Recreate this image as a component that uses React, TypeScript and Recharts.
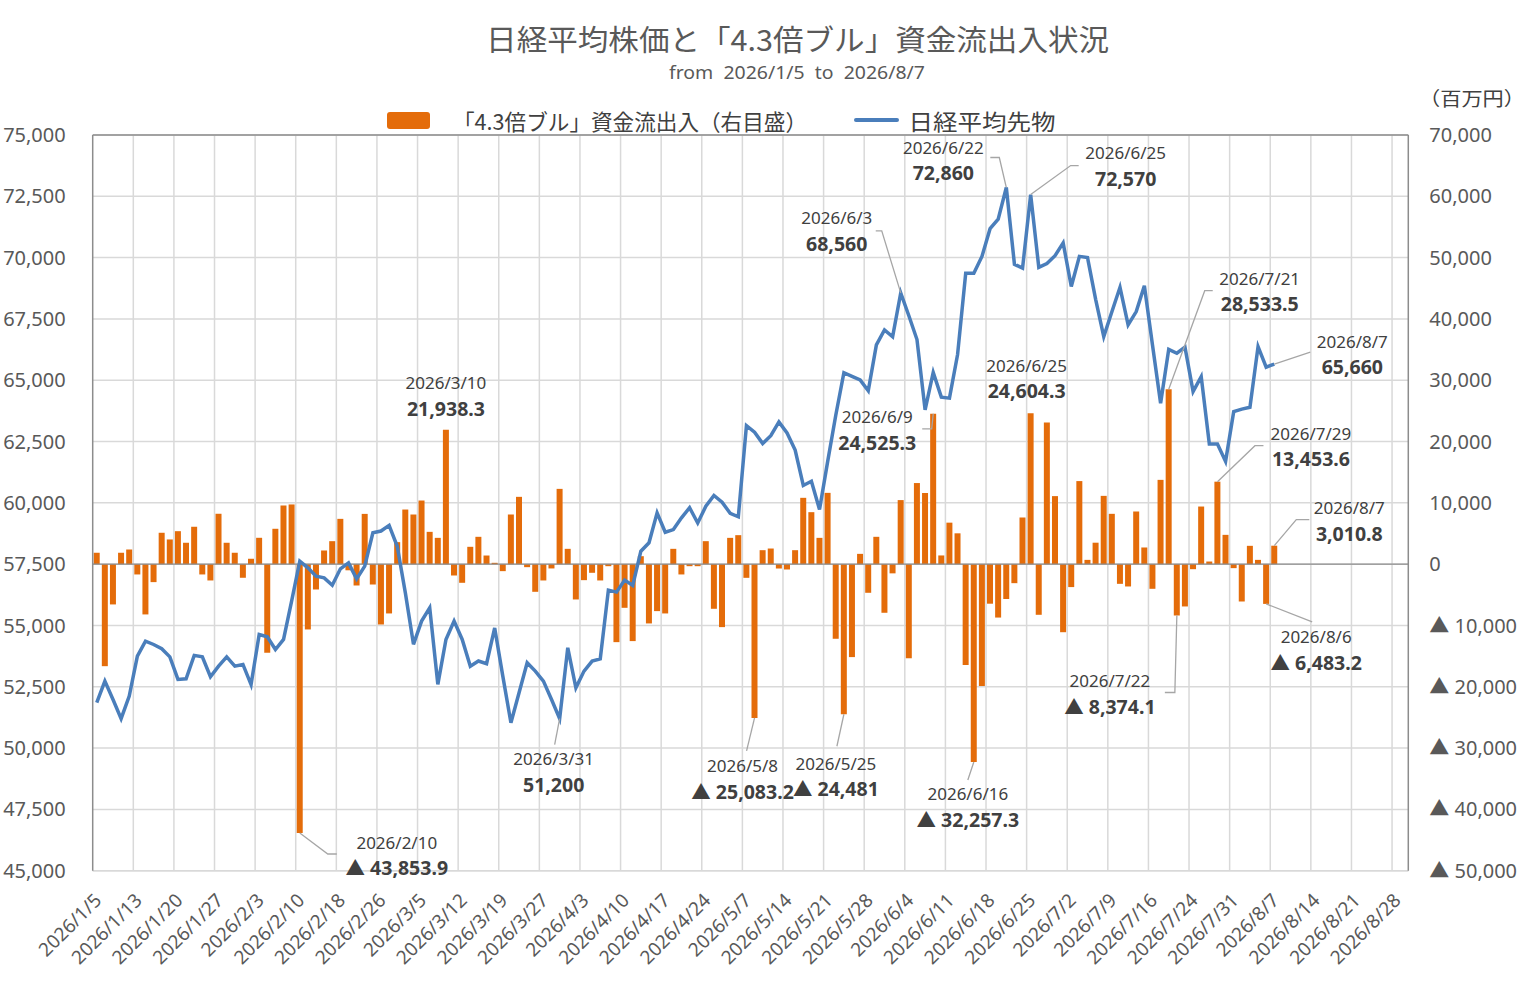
import React from 'react';
import {
  ComposedChart,
  Bar,
  Line,
  XAxis,
  YAxis,
  CartesianGrid,
  ReferenceLine,
  ReferenceDot,
} from 'recharts';

// trading days shown on the category axis (the chart runs on to the end of August)
const CATEGORIES = [
  '2026/1/5', '2026/1/6', '2026/1/7', '2026/1/8', '2026/1/9',
  '2026/1/13', '2026/1/14', '2026/1/15', '2026/1/16',
  '2026/1/19', '2026/1/20', '2026/1/21', '2026/1/22', '2026/1/23',
  '2026/1/26', '2026/1/27', '2026/1/28', '2026/1/29', '2026/1/30',
  '2026/2/2', '2026/2/3', '2026/2/4', '2026/2/5', '2026/2/6',
  '2026/2/9', '2026/2/10', '2026/2/12', '2026/2/13',
  '2026/2/16', '2026/2/17', '2026/2/18', '2026/2/19', '2026/2/20',
  '2026/2/24', '2026/2/25', '2026/2/26', '2026/2/27',
  '2026/3/2', '2026/3/3', '2026/3/4', '2026/3/5', '2026/3/6',
  '2026/3/9', '2026/3/10', '2026/3/11', '2026/3/12', '2026/3/13',
  '2026/3/16', '2026/3/17', '2026/3/18', '2026/3/19',
  '2026/3/23', '2026/3/24', '2026/3/25', '2026/3/26', '2026/3/27',
  '2026/3/30', '2026/3/31', '2026/4/1', '2026/4/2', '2026/4/3',
  '2026/4/6', '2026/4/7', '2026/4/8', '2026/4/9', '2026/4/10',
  '2026/4/13', '2026/4/14', '2026/4/15', '2026/4/16', '2026/4/17',
  '2026/4/20', '2026/4/21', '2026/4/22', '2026/4/23', '2026/4/24',
  '2026/4/27', '2026/4/28', '2026/4/30', '2026/5/1',
  '2026/5/7', '2026/5/8',
  '2026/5/11', '2026/5/12', '2026/5/13', '2026/5/14', '2026/5/15',
  '2026/5/18', '2026/5/19', '2026/5/20', '2026/5/21', '2026/5/22',
  '2026/5/25', '2026/5/26', '2026/5/27', '2026/5/28', '2026/5/29',
  '2026/6/1', '2026/6/2', '2026/6/3', '2026/6/4', '2026/6/5',
  '2026/6/8', '2026/6/9', '2026/6/10', '2026/6/11', '2026/6/12',
  '2026/6/15', '2026/6/16', '2026/6/17', '2026/6/18', '2026/6/19',
  '2026/6/22', '2026/6/23', '2026/6/24', '2026/6/25', '2026/6/26',
  '2026/6/29', '2026/6/30', '2026/7/1', '2026/7/2', '2026/7/3',
  '2026/7/6', '2026/7/7', '2026/7/8', '2026/7/9', '2026/7/10',
  '2026/7/13', '2026/7/14', '2026/7/15', '2026/7/16', '2026/7/17',
  '2026/7/21', '2026/7/22', '2026/7/23', '2026/7/24',
  '2026/7/27', '2026/7/28', '2026/7/29', '2026/7/30', '2026/7/31',
  '2026/8/3', '2026/8/4', '2026/8/5', '2026/8/6', '2026/8/7',
  '2026/8/10', '2026/8/11', '2026/8/12', '2026/8/13', '2026/8/14',
  '2026/8/17', '2026/8/18', '2026/8/19', '2026/8/20', '2026/8/21',
  '2026/8/24', '2026/8/25', '2026/8/26', '2026/8/27', '2026/8/28',
  '2026/8/31',
];

// 「4.3倍ブル」資金流出入 (百万円), 2026/1/5 .. 2026/8/7
const FLOW = [
  1860, -16640, -6570, 1860, 2400,
  -1680, -8200, -2930, 5120,
  4030, 5380, 3490, 6100, -1680,
  -2660, 8220, 3490, 1860, -2220,
  880, 4300, -14450, 5770, 9570,
  9740, -43853.9, -10650, -4130,
  2230, 3750, 7390, -1000, -3480,
  8200, -3320, -9840, -8040,
  3590, 8910, 8100, 10380, 5270,
  4290, 21938.3, -1850, -3040, 2830,
  4460, 1410, 220, -1140,
  8100, 10980, -490, -4510, -2660,
  -700, 12280, 2500, -5760, -2610,
  -1410, -2660, -330, -12720, -7120,
  -12550, 1300, -9670, -7660, -8040,
  2500, -1680, -330, -330, 3750,
  -7280, -10270, 4290, 4730,
  -2230, -25083.2,
  2280, 2550, -710, -870, 2280,
  10820, 8480, 4290, 11630, -12170,
  -24481, -15160, 1680, -4670, 4460,
  -7930, -1500, 10450, -15350, 13230,
  11610, 24525.3, 1420, 6770, 5030,
  -16450, -32257.3, -19870, -6450, -8710,
  -5680, -3100, 7610, 24604.3, -8260,
  23100, 11100, -11100, -3740, 13550,
  700, 3500, 11140, 8210, -3210,
  -3640, 8590, 2720, -4020, 13750,
  28533.5, -8374.1, -6900, -820,
  9400, 430, 13453.6, 4780, -650,
  -6090, 2990, 700, -6483.2, 3010.8,
];

// 日経平均先物, 2026/1/5 .. 2026/8/7
const NIKKEI = [
  51850, 52730, 51980, 51200, 52120,
  53750, 54360, 54225, 54050,
  53720, 52800, 52825, 53780, 53720,
  52910, 53340, 53720, 53340, 53410,
  52590, 54630, 54540, 54020, 54430,
  56000, 57620, 57350, 57010,
  56940, 56640, 57310, 57550, 56900,
  57420, 58780, 58850, 59080,
  58230, 56330, 54230, 55180, 55720,
  52600, 54430, 55180, 54430, 53340,
  53550, 53440, 54900, 52935,
  51030, 52255, 53480, 53140, 52730,
  51980, 51200, 54090, 52460, 53140,
  53550, 53640, 56440, 56360, 56850,
  56630, 58030, 58370, 59590, 58800,
  58910, 59390, 59800, 59180, 59860,
  60300, 60030, 59570, 59430,
  63150, 62880,
  62420, 62740, 63300, 62850, 62150,
  60710, 60880, 59730, 61680, 63570,
  65306, 65160, 65010, 64570, 66440,
  67050, 66770, 68560, 67630, 66660,
  63790, 65320, 64310, 64270, 66050,
  69360, 69360, 70050, 71180, 71570,
  72860, 69730, 69570, 72570, 69600,
  69760, 70080, 70600, 68820, 70050,
  70000, 68300, 66780, 67790, 68790,
  67260, 67800, 68850, 66440, 64060,
  66260, 66100, 66350, 64540,
  65150, 62400, 62400, 61690, 63720,
  63820, 63900, 66370, 65530, 65660,
];

const LEFT_TICKS = [45000, 47500, 50000, 52500, 55000, 57500, 60000, 62500, 65000, 67500, 70000, 72500, 75000];
const RIGHT_TICKS = [-50000, -40000, -30000, -20000, -10000, 0, 10000, 20000, 30000, 40000, 50000, 60000, 70000];

const TITLE = '日経平均株価と「4.3倍ブル」資金流出入状況';
const SUBTITLE = 'from  2026/1/5  to  2026/8/7';
const FLOW_NAME = '「4.3倍ブル」資金流出入（右目盛）';
const NIKKEI_NAME = '日経平均先物';
const UNIT = '（百万円）';

// callouts: which point, where the label sits relative to it, and the leader line
const NOTES = [
  { date: '2026/2/10', series: 'flow', dx: 97, dy: 9, leader: [[0, 0], [28, 21], [37, 21]] },
  { date: '2026/3/10', series: 'flow', dx: 0, dy: -47, leader: [] },
  { date: '2026/3/31', series: 'nikkei', dx: -6, dy: 40, leader: [[0, 0], [-5, 26]] },
  { date: '2026/5/8', series: 'flow', dx: -12, dy: 48, leader: [[0, 0], [-8, 33]] },
  { date: '2026/5/25', series: 'flow', dx: -8, dy: 49, leader: [[0, 0], [-7, 32]] },
  { date: '2026/6/3', series: 'nikkei', dx: -64, dy: -75, leader: [[0, 0], [-19, -62], [-25, -62]] },
  { date: '2026/6/9', series: 'flow', dx: -56, dy: 3, leader: [[0, 0], [-1.5, 15], [-11, 15]] },
  { date: '2026/6/16', series: 'flow', dx: -6, dy: 32, leader: [[0, 0], [-6, 18]] },
  { date: '2026/6/22', series: 'nikkei', dx: -63, dy: -40, leader: [[0, 0], [-7, -30], [-16, -30]] },
  { date: '2026/6/25', series: 'nikkei', dx: 95, dy: -42, leader: [[0, 0], [40, -29], [48, -29]] },
  { date: '2026/6/25', series: 'flow', dx: -4, dy: -48, leader: [] },
  { date: '2026/7/21', series: 'flow', dx: 91, dy: -111, leader: [[0, 0], [36, -98.5], [44, -98.5]] },
  { date: '2026/7/22', series: 'flow', dx: -67, dy: 65.5, leader: [[0, 0], [-2, 77], [-12, 77]] },
  { date: '2026/7/29', series: 'flow', dx: 93.5, dy: -48.5, leader: [[0, 0], [37.5, -36], [46, -36]] },
  { date: '2026/8/6', series: 'flow', dx: 50, dy: 33, leader: [[0, 0], [46, 18]] },
  { date: '2026/8/7', series: 'flow', dx: 75, dy: -38, leader: [[0, 0], [22, -26], [35, -26]] },
  { date: '2026/8/7', series: 'nikkei', dx: 78, dy: -23, leader: [[0, 0], [36, -12]] },
];

const ORANGE = '#E46C0A';
const BLUE = '#4A7EBB';
const GRID = '#d9d9d9';
const AXIS = '#8c8c8c';
const TEXT = '#595959';
const DARK = '#404040';
const FONT = '"Noto Sans", "Noto Sans CJK JP", sans-serif';
const JP_FONT = '"Noto Sans CJK JP", "Noto Sans", sans-serif';

const chartData = CATEGORIES.map((date, i) => ({
  date,
  flow: i < FLOW.length ? FLOW[i] : null,
  nikkei: i < NIKKEI.length ? NIKKEI[i] : null,
}));

const fmt = (v: number) => {
  const d = Number.isInteger(v) ? 0 : 1;
  const s = Math.abs(v).toLocaleString('en-US', { minimumFractionDigits: d, maximumFractionDigits: d });
  return v < 0 ? `▲ ${s}` : s;
};

const DateTick = ({ x, y, payload }: any) => {
  const tx = x + 1;
  const ty = y + 26;
  return (
    <text
      x={tx}
      y={ty}
      transform={`rotate(-45 ${tx} ${ty})`}
      textAnchor="end"
      dominantBaseline="central"
      fontSize={19}
      fill={TEXT}
    >
      {payload.value}
    </text>
  );
};

const noteShape = (note: any, text: string) => (props: any) => {
  const { cx, cy } = props;
  if (cx == null || cy == null) return <g />;
  const pts = note.leader.map((p: number[]) => `${cx + p[0]},${cy + p[1]}`).join(' ');
  return (
    <g>
      {note.leader.length > 1 && (
        <polyline points={pts} fill="none" stroke="#a6a6a6" strokeWidth={1.3} />
      )}
      <text
        x={cx + note.dx}
        y={cy + note.dy}
        textAnchor="middle"
        dominantBaseline="central"
        fontSize={17}
        fill={DARK}
      >
        {note.date}
      </text>
      <text
        x={cx + note.dx}
        y={cy + note.dy + 25.5}
        textAnchor="middle"
        dominantBaseline="central"
        fontSize={19.5}
        fontWeight="bold"
        fill={DARK}
      >
        {text}
      </text>
    </g>
  );
};

const App: React.FC = () => {
  const gridX = ({ offset }: any) =>
    Array.from({ length: 32 }, (_, k) => offset.left + ((k + 1) * 5 * offset.width) / CATEGORIES.length);

  return (
    <div style={{ position: 'absolute', left: 0, top: 0, width: 1524, height: 995, background: '#fff', fontFamily: FONT }}>
      <ComposedChart
        width={1524}
        height={995}
        data={chartData}
        margin={{ top: 135, right: 15.7, bottom: 14.3, left: 12.7 }}
      >
        <CartesianGrid
          yAxisId="left"
          stroke={GRID}
          strokeWidth={1.5}
          verticalCoordinatesGenerator={gridX}
        />
        <XAxis
          dataKey="date"
          interval={4}
          height={110}
          tickLine={false}
          tickSize={0}
          tickMargin={0}
          axisLine={{ stroke: GRID, strokeWidth: 1.5 }}
          tick={<DateTick />}
        />
        <YAxis
          yAxisId="left"
          orientation="left"
          domain={[45000, 75000]}
          ticks={LEFT_TICKS}
          width={80}
          tickLine={false}
          tickSize={0}
          tickMargin={27}
          axisLine={{ stroke: AXIS, strokeWidth: 1.5 }}
          tick={{ fontSize: 20, fill: TEXT }}
          tickFormatter={(v: number) => v.toLocaleString('en-US')}
        />
        <YAxis
          yAxisId="right"
          orientation="right"
          domain={[-50000, 70000]}
          ticks={RIGHT_TICKS}
          width={100}
          tickLine={false}
          tickSize={0}
          tickMargin={21}
          axisLine={{ stroke: AXIS, strokeWidth: 1.5 }}
          tick={{ fontSize: 20, fill: TEXT }}
          tickFormatter={(v: number) => fmt(v)}
        />
        <ReferenceLine yAxisId="left" y={75000} stroke={AXIS} strokeWidth={1.5} />
        <ReferenceLine yAxisId="right" y={0} stroke={AXIS} strokeWidth={1.2} />
        <Bar yAxisId="right" dataKey="flow" fill={ORANGE} barSize={6} isAnimationActive={false} />
        <Line
          yAxisId="left"
          dataKey="nikkei"
          type="linear"
          stroke={BLUE}
          strokeWidth={3.5}
          dot={false}
          activeDot={false}
          isAnimationActive={false}
        />
        {NOTES.map((note, k) => {
          const idx = CATEGORIES.indexOf(note.date);
          const v = note.series === 'flow' ? FLOW[idx] : NIKKEI[idx];
          return (
            <ReferenceDot
              key={k}
              yAxisId={note.series === 'flow' ? 'right' : 'left'}
              x={note.date}
              y={v}
              r={0}
              shape={noteShape(note, fmt(v))}
            />
          );
        })}
      </ComposedChart>

      {/* title, subtitle, legend and unit */}
      <svg width={1524} height={995} style={{ position: 'absolute', left: 0, top: 0, pointerEvents: 'none' }}>
        <text x={797.6} y={38} textAnchor="middle" dominantBaseline="central" fontSize={29} fill={TEXT}
          fontFamily={JP_FONT} textLength={623} lengthAdjust="spacingAndGlyphs">
          {TITLE}
        </text>
        <text x={797} y={71.7} textAnchor="middle" dominantBaseline="central" fontSize={18} fill={TEXT}
          style={{ whiteSpace: 'pre' }} textLength={256} lengthAdjust="spacingAndGlyphs">
          {SUBTITLE}
        </text>
        <rect x={387} y={112} width={43} height={17} rx={3} fill={ORANGE} />
        <text x={453} y={120} dominantBaseline="central" fontSize={22} fill={DARK}
          fontFamily={JP_FONT} textLength={354} lengthAdjust="spacingAndGlyphs">
          {FLOW_NAME}
        </text>
        <line x1={856} x2={897} y1={120} y2={120} stroke={BLUE} strokeWidth={4} strokeLinecap="round" />
        <text x={908.5} y={120} dominantBaseline="central" fontSize={22} fill={DARK}
          fontFamily={JP_FONT} textLength={147} lengthAdjust="spacingAndGlyphs">
          {NIKKEI_NAME}
        </text>
        <text x={1419} y={97} dominantBaseline="central" fontSize={19} fill={DARK}
          fontFamily={JP_FONT} textLength={106} lengthAdjust="spacingAndGlyphs">
          {UNIT}
        </text>
      </svg>
    </div>
  );
};

export default App;
